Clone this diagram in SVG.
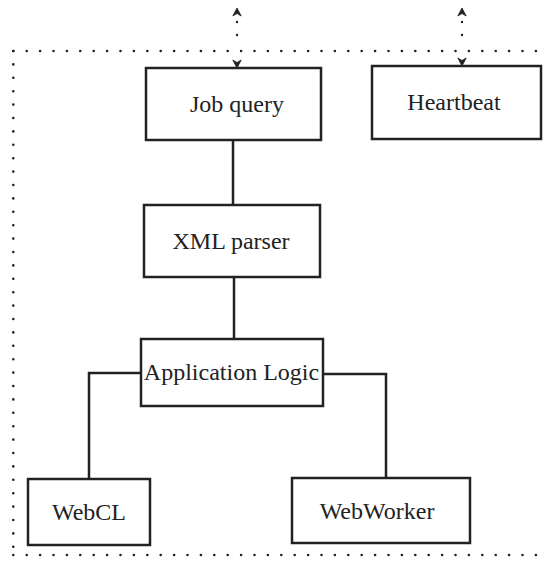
<svg xmlns="http://www.w3.org/2000/svg" width="546" height="561" viewBox="0 0 546 561">
<style>
.box{fill:#fff;stroke:#222;stroke-width:2.5}
.lbl{font-family:"Liberation Serif","Times New Roman",serif;font-size:24px;fill:#222;text-anchor:middle}
.conn{fill:none;stroke:#222;stroke-width:2.5}
.dots{fill:none;stroke:#222;stroke-width:2.6;stroke-linecap:round;stroke-dasharray:0 13.4}
.darrow{fill:none;stroke:#222;stroke-width:2.4;stroke-linecap:round;stroke-dasharray:0 13}
</style>
<defs>
<marker id="ah" markerUnits="userSpaceOnUse" markerWidth="12" markerHeight="12" refX="0" refY="0" viewBox="-6 -6 12 12" orient="auto-start-reverse" overflow="visible">
<path d="M0,0 L-8,-4.2 L-5.5,0 L-8,4.2 Z" fill="#222" stroke="#222" stroke-width="0.8"/>
</marker>
</defs>
<g id="frame">
<line class="dots" x1="13.3" y1="51" x2="536" y2="51"/>
<line class="dots" x1="13.3" y1="51" x2="13.3" y2="555"/>
<line class="dots" x1="13.3" y1="555" x2="536" y2="555"/>
</g>
<g id="connectors">
<line class="conn" x1="233" y1="140" x2="233" y2="205"/>
<line class="conn" x1="234" y1="277" x2="234" y2="339"/>
<polyline class="conn" points="141,373 89,373 89,479"/>
<polyline class="conn" points="323,374 386,374 386,478"/>
<line class="darrow" x1="237" y1="22" x2="237" y2="48"/>
<line class="conn" x1="237" y1="8" x2="237" y2="8.1" stroke-width="0.1" marker-start="url(#ah)"/>
<line class="conn" x1="237" y1="67.9" x2="237" y2="68" stroke-width="0.1" marker-end="url(#ah)"/>
<line class="darrow" x1="462" y1="22" x2="462" y2="48"/>
<line class="conn" x1="462" y1="8" x2="462" y2="8.1" stroke-width="0.1" marker-start="url(#ah)"/>
<line class="conn" x1="462" y1="65.9" x2="462" y2="66" stroke-width="0.1" marker-end="url(#ah)"/>
</g>
<g id="job-query">
<rect class="box" x="146" y="68" width="175" height="72"/>
<text class="lbl" x="237" y="112">Job query</text>
</g>
<g id="heartbeat">
<rect class="box" x="372" y="66" width="169" height="73"/>
<text class="lbl" x="454" y="110">Heartbeat</text>
</g>
<g id="xml-parser">
<rect class="box" x="144" y="205" width="176" height="72"/>
<text class="lbl" x="231" y="249">XML parser</text>
</g>
<g id="application-logic">
<rect class="box" x="141" y="339" width="182" height="67"/>
<text class="lbl" x="231.5" y="380">Application Logic</text>
</g>
<g id="webcl">
<rect class="box" x="28" y="479" width="122" height="66"/>
<text class="lbl" x="89" y="520">WebCL</text>
</g>
<g id="webworker">
<rect class="box" x="292" y="478" width="178" height="65"/>
<text class="lbl" x="377" y="519">WebWorker</text>
</g>
</svg>
